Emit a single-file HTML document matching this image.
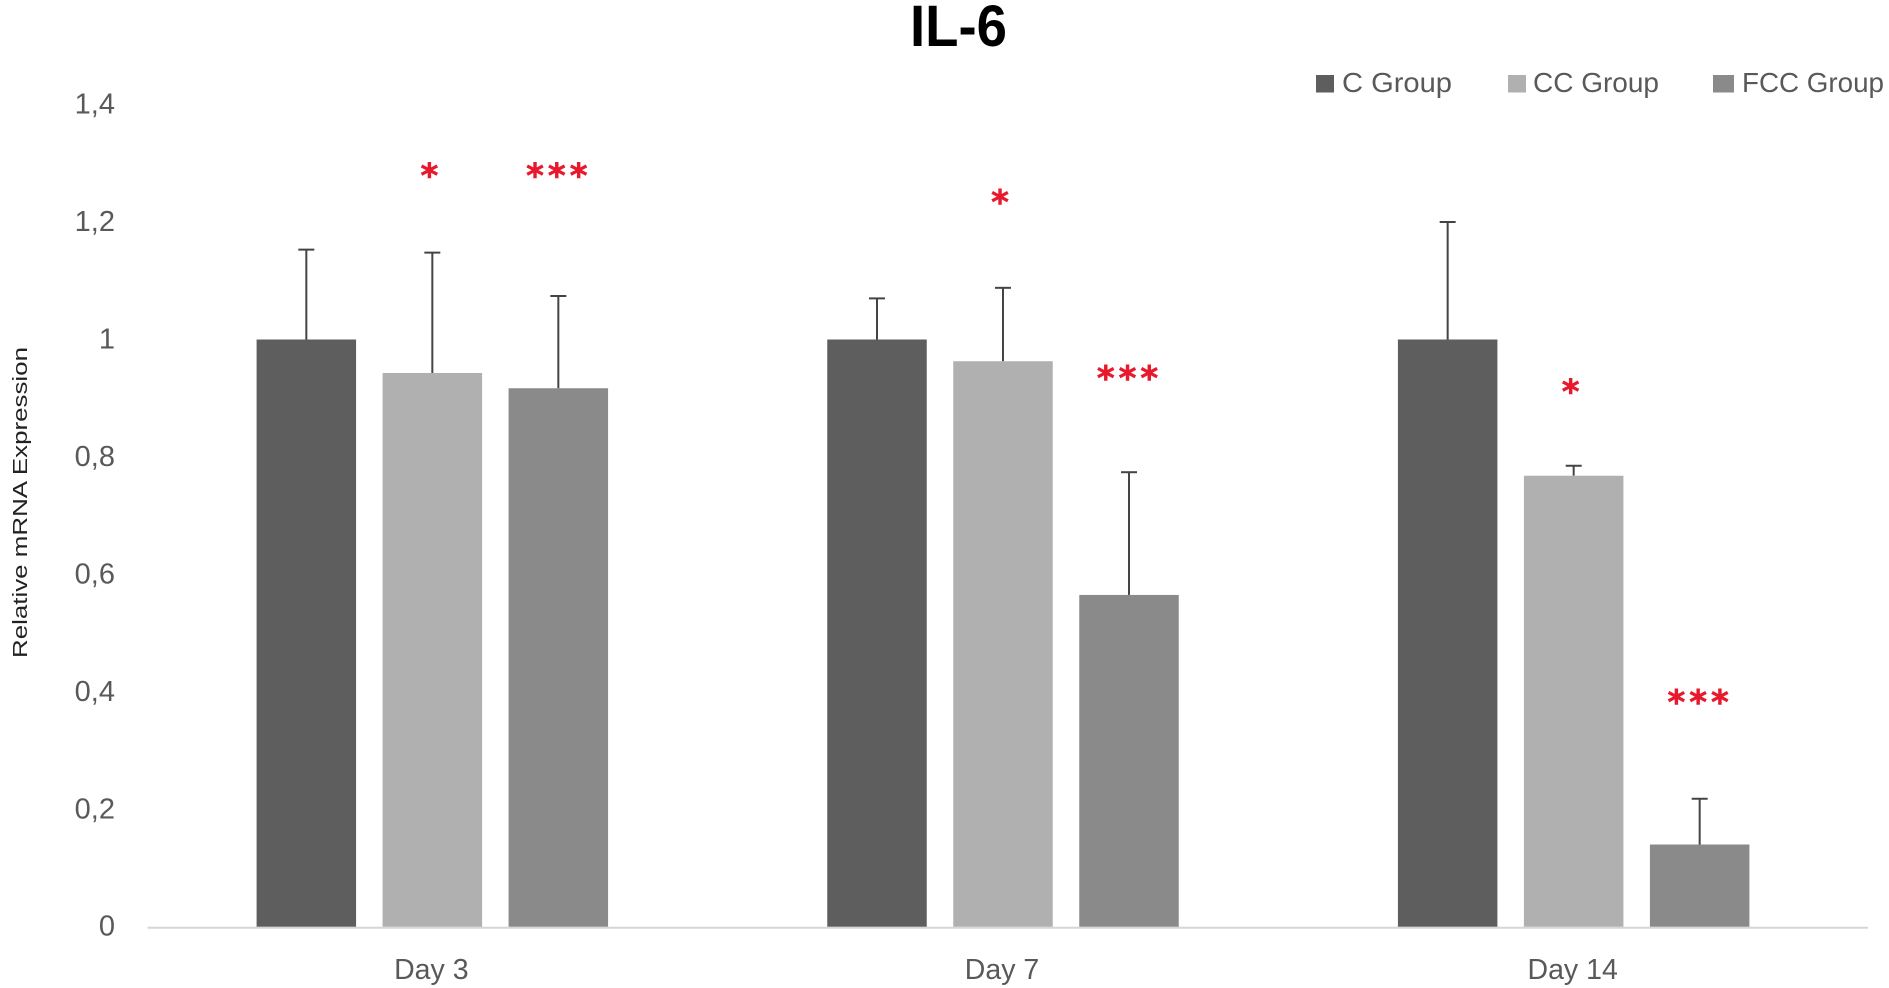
<!DOCTYPE html>
<html lang="en">
<head>
<meta charset="utf-8">
<title>IL-6 Relative mRNA Expression</title>
<style>
html,body{margin:0;padding:0;background:#fff;width:1889px;height:988px;overflow:hidden}
svg{display:block}
text{font-family:"Liberation Sans",sans-serif}
</style>
</head>
<body>
<svg id="chart" xmlns="http://www.w3.org/2000/svg" width="1889" height="988" viewBox="0 0 1889 988">
  <text x="910" y="46" font-size="58" font-weight="700" fill="#000" textLength="97" lengthAdjust="spacingAndGlyphs">IL-6</text>
  <text transform="translate(27,658) rotate(-90)" font-size="20" fill="#222" textLength="311" lengthAdjust="spacingAndGlyphs">Relative mRNA Expression</text>
  <g>
    <g>
      <rect x="1316" y="75" width="18" height="17.5" fill="#5e5e5e"></rect>
      <text x="1342" y="92" font-size="28" fill="#595959" textLength="110" lengthAdjust="spacingAndGlyphs">C Group</text>
    </g>
    <g>
      <rect x="1508" y="75" width="18" height="17.5" fill="#b0b0b0"></rect>
      <text x="1533" y="92" font-size="28" fill="#595959" textLength="126" lengthAdjust="spacingAndGlyphs">CC Group</text>
    </g>
    <g>
      <rect x="1713" y="75" width="21" height="17.5" fill="#8a8a8a"></rect>
      <text x="1742" y="92" font-size="28" fill="#595959" textLength="142" lengthAdjust="spacingAndGlyphs">FCC Group</text>
    </g>
  </g>
  <g id="plot"></g>
</svg>
<script>
const categories = ['Day 3', 'Day 7', 'Day 14'];
const seriesNames = ['C Group', 'CC Group', 'FCC Group'];
const cGroupValues = [1, 1, 1];
const ccGroupValues = [0.943, 0.963, 0.768];
const fccGroupValues = [0.917, 0.565, 0.14];
const cGroupErrorTops = [1.153, 1.07, 1.2];
const ccGroupErrorTops = [1.148, 1.088, 0.785];
const fccGroupErrorTops = [1.074, 0.774, 0.218];
const ccGroupStars = ['*', '*', '*'];
const fccGroupStars = ['***', '***', '***'];
const ccGroupStarLevels = [1.288, 1.243, 0.92];
const fccGroupStarLevels = [1.288, 0.943, 0.391];
const yTickValues = [0, 0.2, 0.4, 0.6, 0.8, 1, 1.2, 1.4];
const yTickLabels = ['0', '0,2', '0,4', '0,6', '0,8', '1', '1,2', '1,4'];

const seriesValues = [cGroupValues, ccGroupValues, fccGroupValues];
const seriesErrorTops = [cGroupErrorTops, ccGroupErrorTops, fccGroupErrorTops];
const seriesColors = ['#5e5e5e', '#b0b0b0', '#8a8a8a'];

const axisLeft = 147, axisRight = 1859, baseY = 926.7, unitPx = 587.2;
const barWidth = 99.5, barStep = 126;
const NS = 'http://www.w3.org/2000/svg';
const plot = document.getElementById('plot');

function yScale(v) { return baseY - v * unitPx; }
function groupCenter(i) { return axisLeft + (axisRight - axisLeft) * (i + 0.5) / categories.length; }
function barCenter(i, s) { return groupCenter(i) + (s - 1) * barStep; }
function make(tag, attrs, parent) {
  const el = document.createElementNS(NS, tag);
  for (const k in attrs) el.setAttribute(k, attrs[k]);
  (parent || plot).appendChild(el);
  return el;
}
function slug(t) { return t.toLowerCase().replace(/[^a-z0-9]+/g, '-'); }

yTickValues.forEach(function (v, i) {
  const t = make('text', { x: 115, y: yScale(v) + 9, 'text-anchor': 'end', 'font-size': 29, fill: '#595959' });
  
  
  t.textContent = yTickLabels[i];
});

const axisLine = make('line', { x1: axisLeft + 0.5, x2: axisRight + 9, y1: baseY + 1, y2: baseY + 1, stroke: '#d6d6d6', 'stroke-width': 2 });



categories.forEach(function (cat, i) {
  const label = make('text', { x: groupCenter(i) - 1, y: 979, 'text-anchor': 'middle', 'font-size': 28.5, fill: '#595959' });
  
  
  label.textContent = cat;

  seriesNames.forEach(function (name, s) {
    const value = seriesValues[s][i];
    const cx = barCenter(i, s);
    const err = make('line', { x1: cx, x2: cx, y1: yScale(value), y2: yScale(seriesErrorTops[s][i]), stroke: '#444', 'stroke-width': 2 });
    
    
    const cap = make('line', { x1: cx - 8, x2: cx + 8, y1: yScale(seriesErrorTops[s][i]), y2: yScale(seriesErrorTops[s][i]), stroke: '#444', 'stroke-width': 2 });
    
    
    const bar = make('rect', { x: cx - barWidth / 2, y: yScale(value), width: barWidth, height: baseY - yScale(value), fill: seriesColors[s] });
    
    
  });

  const starSets = [[1, ccGroupStars[i], ccGroupStarLevels[i]], [2, fccGroupStars[i], fccGroupStarLevels[i]]];
  starSets.forEach(function (set) {
    const triple = set[1].length > 1;
    const star = make('text', { x: barCenter(i, set[0]) + (triple ? 0.5 : -3), y: yScale(set[2]) + 17, 'text-anchor': 'middle', 'font-size': 34, 'font-weight': 700, fill: '#e8192c', stroke: '#e8192c', 'stroke-width': 0.6, 'letter-spacing': triple ? 4 : 0 });
    star.style.fontFamily = '"DejaVu Sans",sans-serif';
    
    
    star.textContent = set[1];
  });
});
</script>
</body>
</html>
